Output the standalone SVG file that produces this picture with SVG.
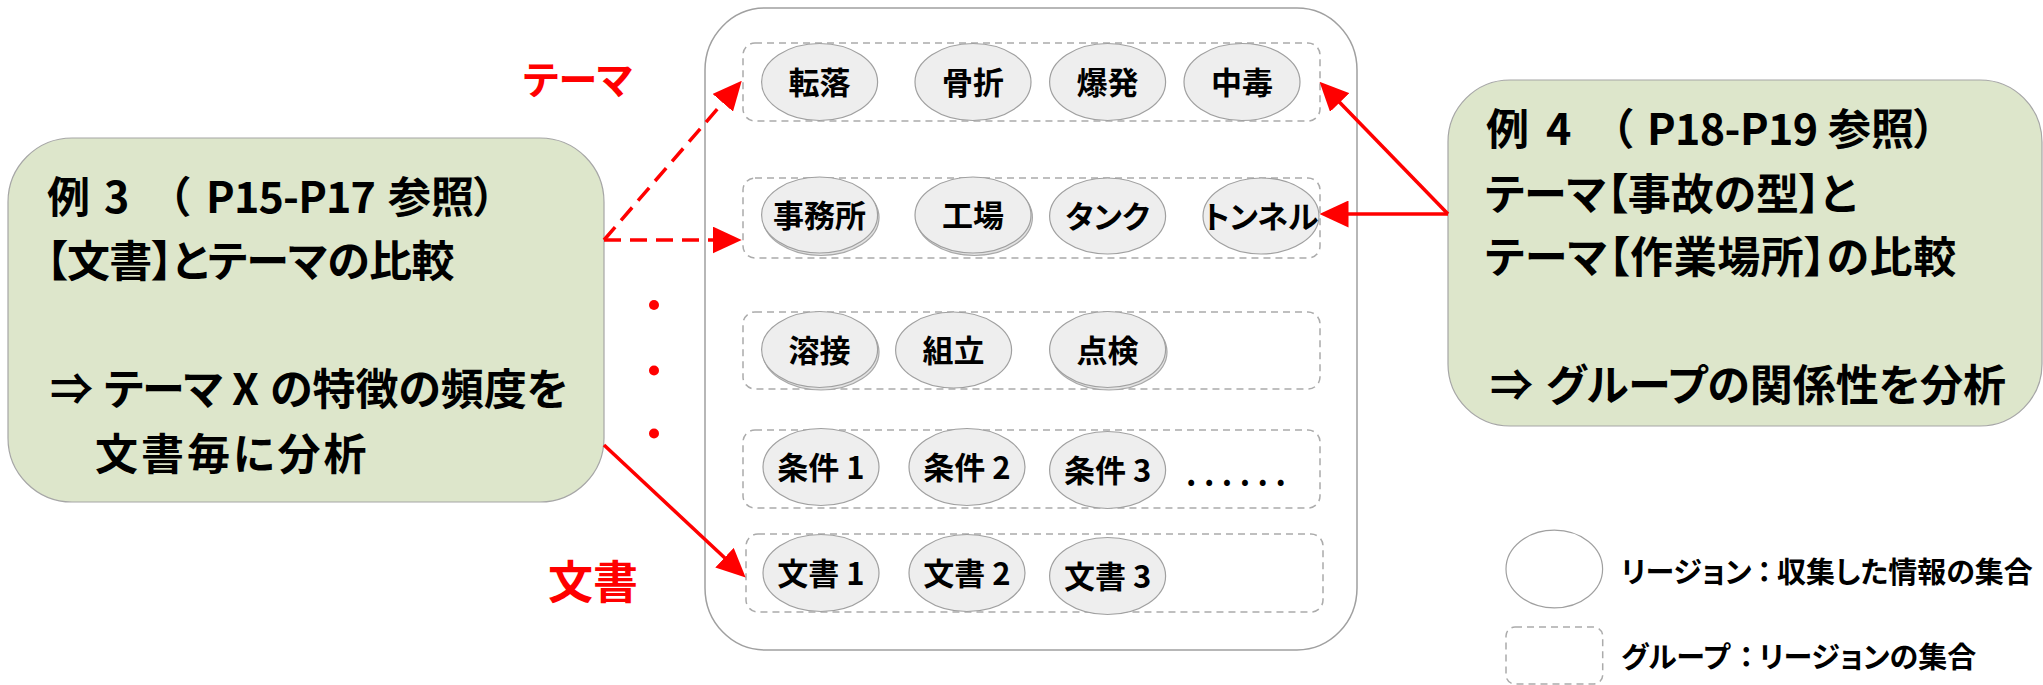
<svg xmlns="http://www.w3.org/2000/svg" width="2043" height="685" viewBox="0 0 2043 685">
<defs>
<style>
.box{fill:#DDE6CB;stroke:#A6A6A6;stroke-width:1.2}
.outer{fill:#FFFFFF;stroke:#A0A0A0;stroke-width:1.5}
.grp{fill:none;stroke:#ABABAB;stroke-width:1.5;stroke-dasharray:7 5}
.reg{fill:#EEEEEE;stroke:#A0A0A0;stroke-width:1.2}
.sh{fill:#E2E2E2;stroke:#A8A8A8;stroke-width:1.2}
.t{font-family:"Noto Sans CJK JP","Noto Sans",sans-serif;font-weight:700;font-feature-settings:"palt"}
.big{font-size:43px;fill:#000}
.lbl{font-size:31px;text-anchor:middle;fill:#000}
.leg{font-size:29px;fill:#000}
.red{fill:#FF0000}
.arr{stroke:#FF0000;stroke-width:3.5;fill:none}
.dash{stroke-dasharray:17 9}
</style>
<marker id="ah" markerUnits="userSpaceOnUse" markerWidth="29" markerHeight="27" refX="17" refY="13.5" orient="auto">
<path d="M0,0 L29,13.5 L0,27 Z" fill="#FF0000"/>
</marker>
</defs>

<g id="container">
<rect class="outer" x="705" y="8" width="652" height="642" rx="60" ry="62"/>
</g>

<g id="group-theme1">
<rect class="grp" x="743" y="43" width="577" height="78" rx="12"/>
<g id="r-tenraku"><ellipse class="reg" cx="819.6" cy="82" rx="58" ry="38.5"/><text class="t lbl" x="819.6" y="94">転落</text></g>
<g id="r-kossetsu"><ellipse class="reg" cx="973" cy="82" rx="58" ry="38.5"/><text class="t lbl" x="973" y="94">骨折</text></g>
<g id="r-bakuhatsu"><ellipse class="reg" cx="1107.6" cy="82" rx="58" ry="38.5"/><text class="t lbl" x="1107.6" y="94">爆発</text></g>
<g id="r-chudoku"><ellipse class="reg" cx="1242" cy="82" rx="58" ry="38.5"/><text class="t lbl" x="1242" y="94">中毒</text></g>
</g>

<g id="group-theme2">
<rect class="grp" x="743" y="178" width="577" height="80" rx="12"/>
<g id="r-jimusho"><ellipse class="sh" cx="821" cy="217.5" rx="58" ry="38"/><ellipse class="reg" cx="819.6" cy="215" rx="58" ry="38"/><text class="t lbl" x="819.6" y="227">事務所</text></g>
<g id="r-kojo"><ellipse class="sh" cx="974.4" cy="217.5" rx="58" ry="38"/><ellipse class="reg" cx="973" cy="215" rx="58" ry="38"/><text class="t lbl" x="973" y="227">工場</text></g>
<g id="r-tank"><ellipse class="reg" cx="1107.6" cy="216" rx="58" ry="38"/><text class="t lbl" x="1107.6" y="228">タンク</text></g>
<g id="r-tunnel"><ellipse class="reg" cx="1261" cy="216" rx="58" ry="38"/><text class="t lbl" x="1261" y="228">トンネル</text></g>
</g>

<g id="group-theme3">
<rect class="grp" x="743" y="312" width="577" height="77" rx="12"/>
<g id="r-yosetsu"><ellipse class="sh" cx="821" cy="352" rx="58" ry="38"/><ellipse class="reg" cx="819.6" cy="349.5" rx="58" ry="38"/><text class="t lbl" x="819.6" y="361.5">溶接</text></g>
<g id="r-kumitate"><ellipse class="reg" cx="953.6" cy="350" rx="58" ry="38"/><text class="t lbl" x="953.6" y="362">組立</text></g>
<g id="r-tenken"><ellipse class="sh" cx="1109" cy="352" rx="58" ry="38"/><ellipse class="reg" cx="1107.6" cy="349.5" rx="58" ry="38"/><text class="t lbl" x="1107.6" y="361.5">点検</text></g>
</g>

<g id="group-conditions">
<rect class="grp" x="743" y="430" width="577" height="78" rx="12"/>
<g id="r-joken1"><ellipse class="reg" cx="821" cy="467" rx="58" ry="38.5"/><text class="t lbl" x="821" y="479">条件 1</text></g>
<g id="r-joken2"><ellipse class="reg" cx="967" cy="467" rx="58" ry="38.5"/><text class="t lbl" x="967" y="479">条件 2</text></g>
<g id="r-joken3"><ellipse class="reg" cx="1107.6" cy="470" rx="58" ry="38.5"/><text class="t lbl" x="1107.6" y="482">条件 3</text></g>
<text class="t" x="1186" y="486" font-size="32" letter-spacing="7.5" fill="#000">......</text>
</g>

<g id="group-docs">
<rect class="grp" x="746" y="534" width="577" height="78" rx="12"/>
<g id="r-doc1"><ellipse class="reg" cx="821" cy="573" rx="58" ry="38.5"/><text class="t lbl" x="821" y="585">文書 1</text></g>
<g id="r-doc2"><ellipse class="reg" cx="967" cy="573" rx="58" ry="38.5"/><text class="t lbl" x="967" y="585">文書 2</text></g>
<g id="r-doc3"><ellipse class="reg" cx="1107.6" cy="576" rx="58" ry="38.5"/><text class="t lbl" x="1107.6" y="588">文書 3</text></g>
</g>

<g id="example3">
<rect class="box" x="8" y="138" width="596" height="364" rx="64"/>
<text class="t big" y="213"><tspan x="47">例</tspan><tspan x="104">3</tspan><tspan x="168">（</tspan><tspan x="206" letter-spacing="-0.8">P15-P17</tspan><tspan x="388">参照）</tspan></text>
<text class="t big" x="46" y="277" letter-spacing="-0.6">【文書】とテーマの比較</text>
<text class="t big" y="405"><tspan x="50">⇒</tspan><tspan x="104" letter-spacing="-1">テーマ</tspan><tspan x="232">X</tspan><tspan x="270">の特徴の頻度を</tspan></text>
<text class="t big" x="95" y="470" letter-spacing="3">文書毎に分析</text>
</g>

<g id="example4">
<rect class="box" x="1448" y="80" width="594" height="346" rx="62"/>
<text class="t big" y="145"><tspan x="1486">例</tspan><tspan x="1546">4</tspan><tspan x="1611">（</tspan><tspan x="1647" letter-spacing="-0.6">P18-P19</tspan><tspan x="1828">参照）</tspan></text>
<text class="t big" x="1485" y="210">テーマ【事故の型】と</text>
<text class="t big" x="1485" y="273" letter-spacing="0.6">テーマ【作業場所】の比較</text>
<text class="t big" y="401"><tspan x="1490">⇒</tspan><tspan x="1546">グループの関係性を分析</tspan></text>
</g>

<g id="label-theme"><text class="t red" x="523" y="94" font-size="39">テーマ</text></g>
<g id="label-docs"><text class="t red" x="548" y="599" font-size="45">文書</text></g>

<g id="ellipsis-dots" fill="#FF0000">
<circle cx="654" cy="305" r="5"/>
<circle cx="654" cy="370.5" r="5"/>
<circle cx="654" cy="433.5" r="5"/>
</g>

<g id="connectors">
<path class="arr dash" d="M604,240 L733.9,89.9" marker-end="url(#ah)"/>
<path class="arr dash" d="M604,240 L729.7,240" marker-end="url(#ah)"/>
<path class="arr" d="M604,445 L736.9,569.3" marker-end="url(#ah)"/>
<path class="arr" d="M1448,214 L1327.9,90.3" marker-end="url(#ah)"/>
<path class="arr" d="M1448,214 L1331.5,214" marker-end="url(#ah)"/>
</g>

<g id="legend">
<g id="legend-region">
<ellipse cx="1554.3" cy="569" rx="48.3" ry="38.8" fill="#FFFFFF" stroke="#A0A0A0" stroke-width="1.2"/>
<text class="t leg" y="583"><tspan x="1621">リージョン</tspan><tspan x="1757">：</tspan><tspan x="1777">収集した情報の集合</tspan></text>
</g>
<g id="legend-group">
<rect class="grp" x="1506" y="627" width="96.7" height="57" rx="9"/>
<text class="t leg" y="668"><tspan x="1621">グループ</tspan><tspan x="1739">：</tspan><tspan x="1759">リージョンの集合</tspan></text>
</g>
</g>
</svg>
